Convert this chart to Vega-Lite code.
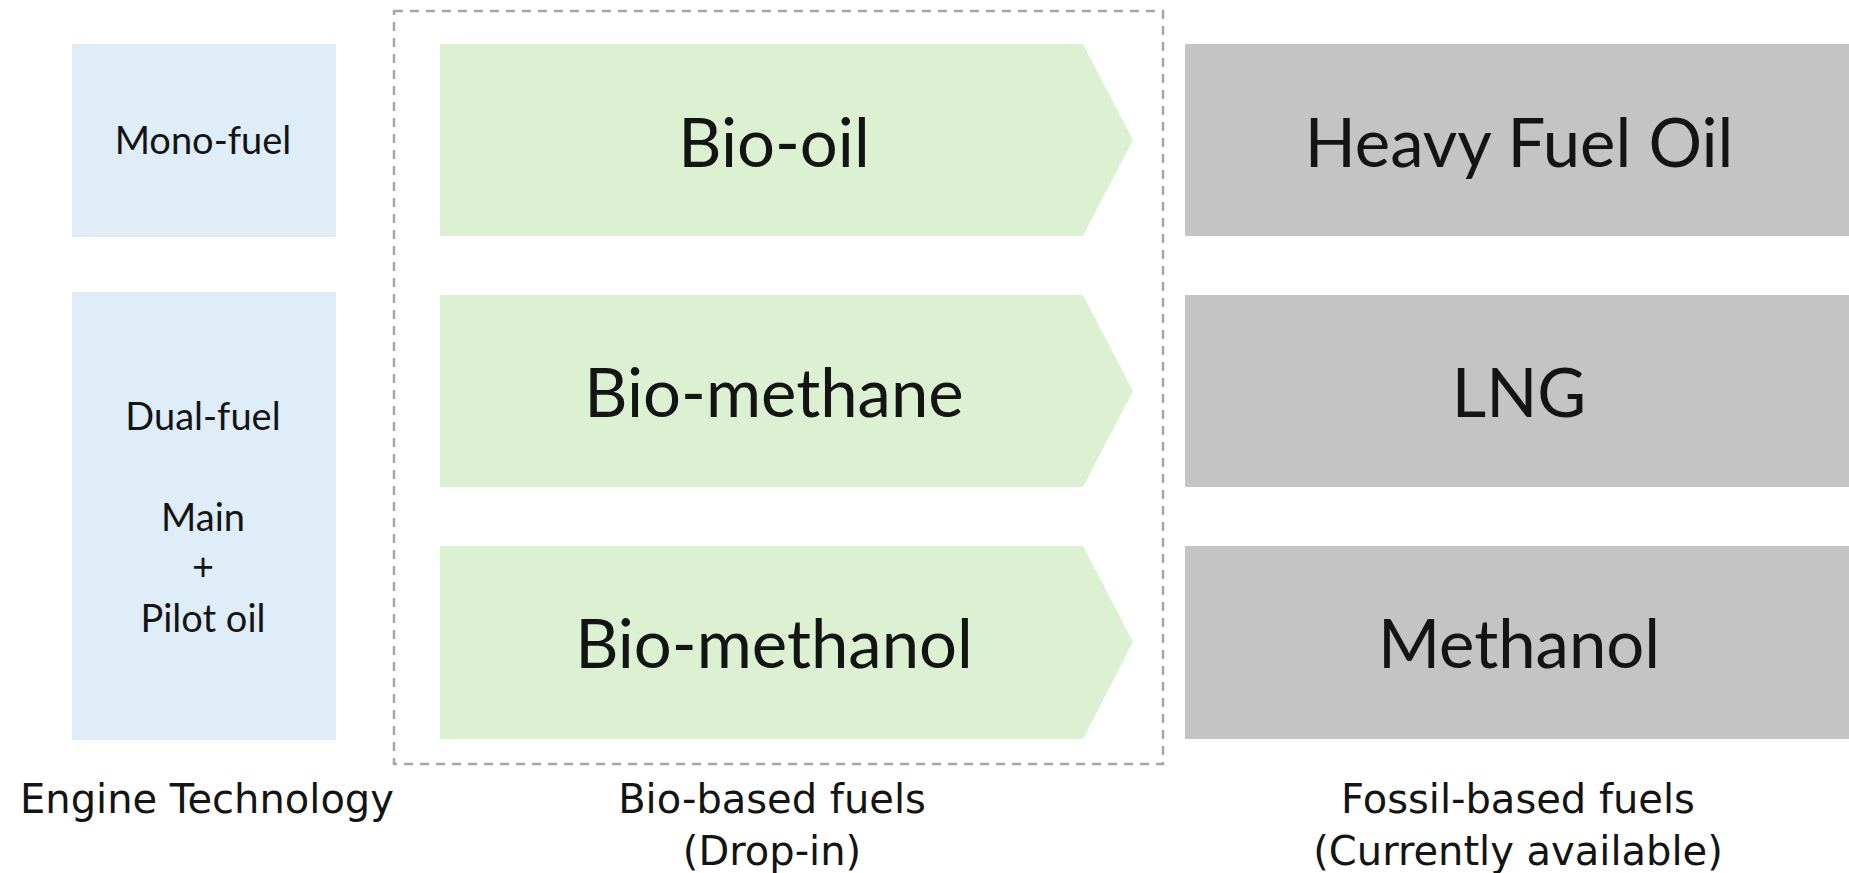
{
  "$schema": "https://vega.github.io/schema/vega-lite/v6.json",
  "width": 1849,
  "height": 873,
  "padding": 0,
  "autosize": {"type": "fit", "contains": "padding"},
  "background": "#ffffff",
  "config": {"view": {"stroke": null}},
  "datasets": {
    "boxes": [
      {"group": "engine", "x0": 72, "x1": 336, "y0": 44, "y1": 237},
      {"group": "engine", "x0": 72, "x1": 336, "y0": 292, "y1": 740},
      {"group": "fossil", "x0": 1185, "x1": 1849, "y0": 44, "y1": 236},
      {"group": "fossil", "x0": 1185, "x1": 1849, "y0": 295, "y1": 487},
      {"group": "fossil", "x0": 1185, "x1": 1849, "y0": 546, "y1": 739}
    ],
    "arrows": [
      {"row": "a", "x": 440, "top": 44, "bot": 236},
      {"row": "a", "x": 1083, "top": 44, "bot": 236},
      {"row": "a", "x": 1133, "top": 140, "bot": 140},
      {"row": "b", "x": 440, "top": 295, "bot": 487},
      {"row": "b", "x": 1083, "top": 295, "bot": 487},
      {"row": "b", "x": 1133, "top": 391, "bot": 391},
      {"row": "c", "x": 440, "top": 546, "bot": 739},
      {"row": "c", "x": 1083, "top": 546, "bot": 739},
      {"row": "c", "x": 1133, "top": 642, "bot": 642}
    ],
    "frame": [{"x0": 394, "x1": 1163, "y0": 11, "y1": 764}],
    "labels": [
      {"role": "engine", "label": "Mono-fuel", "x": 203, "y": 143},
      {"role": "engine", "label": "Dual-fuel", "x": 203, "y": 419},
      {"role": "engine", "label": "Main", "x": 203, "y": 520},
      {"role": "engine", "label": "+", "x": 203, "y": 569},
      {"role": "engine", "label": "Pilot oil", "x": 203, "y": 621},
      {"role": "big", "label": "Bio-oil", "x": 774, "y": 147},
      {"role": "big", "label": "Bio-methane", "x": 774, "y": 397},
      {"role": "big", "label": "Bio-methanol", "x": 774, "y": 648},
      {"role": "big", "label": "Heavy Fuel Oil", "x": 1519, "y": 147},
      {"role": "big", "label": "LNG", "x": 1519, "y": 397},
      {"role": "big", "label": "Methanol", "x": 1519, "y": 648},
      {"role": "caption", "label": "Engine Technology", "x": 207, "y": 801},
      {"role": "caption", "label": "Bio-based fuels", "x": 772, "y": 801},
      {"role": "caption", "label": "(Drop-in)", "x": 772, "y": 853},
      {"role": "caption", "label": "Fossil-based fuels", "x": 1518, "y": 801},
      {"role": "caption", "label": "(Currently available)", "x": 1518, "y": 853}
    ]
  },
  "layer": [
    {
      "data": {"name": "boxes"},
      "mark": {"type": "rect"},
      "encoding": {
        "x": {"field": "x0", "type": "quantitative", "scale": {"domain": [0, 1849], "nice": false, "zero": false}, "axis": null},
        "x2": {"field": "x1"},
        "y": {"field": "y0", "type": "quantitative", "scale": {"domain": [0, 873], "nice": false, "zero": false, "reverse": true}, "axis": null},
        "y2": {"field": "y1"},
        "color": {"field": "group", "type": "nominal", "scale": {"domain": ["engine", "fossil"], "range": ["#DFEDF9", "#C4C4C4"]}, "legend": null}
      }
    },
    {
      "data": {"name": "arrows"},
      "mark": {"type": "area", "color": "#DCF1D1", "interpolate": "linear"},
      "encoding": {
        "x": {"field": "x", "type": "quantitative", "axis": null},
        "y": {"field": "top", "type": "quantitative", "axis": null},
        "y2": {"field": "bot"},
        "detail": {"field": "row", "type": "nominal"}
      }
    },
    {
      "data": {"name": "frame"},
      "mark": {"type": "rect", "fill": null, "filled": false, "stroke": "#A6A6A6", "strokeWidth": 2.5, "strokeDash": [9, 7]},
      "encoding": {
        "x": {"field": "x0", "type": "quantitative", "axis": null},
        "x2": {"field": "x1"},
        "y": {"field": "y0", "type": "quantitative", "axis": null},
        "y2": {"field": "y1"}
      }
    },
    {
      "data": {"name": "labels"},
      "transform": [{"filter": "datum.role === 'engine'"}],
      "mark": {"type": "text", "font": "Lato", "fontSize": 38, "color": "#141414", "align": "center", "baseline": "middle"},
      "encoding": {
        "x": {"field": "x", "type": "quantitative", "axis": null},
        "y": {"field": "y", "type": "quantitative", "axis": null},
        "text": {"field": "label"}
      }
    },
    {
      "data": {"name": "labels"},
      "transform": [{"filter": "datum.role === 'big'"}],
      "mark": {"type": "text", "font": "Lato", "fontSize": 67, "color": "#141414", "align": "center", "baseline": "middle"},
      "encoding": {
        "x": {"field": "x", "type": "quantitative", "axis": null},
        "y": {"field": "y", "type": "quantitative", "axis": null},
        "text": {"field": "label"}
      }
    },
    {
      "data": {"name": "labels"},
      "transform": [{"filter": "datum.role === 'caption'"}],
      "mark": {"type": "text", "font": "DejaVu Sans", "fontSize": 40, "color": "#141414", "align": "center", "baseline": "middle"},
      "encoding": {
        "x": {"field": "x", "type": "quantitative", "axis": null},
        "y": {"field": "y", "type": "quantitative", "axis": null},
        "text": {"field": "label"}
      }
    }
  ]
}
